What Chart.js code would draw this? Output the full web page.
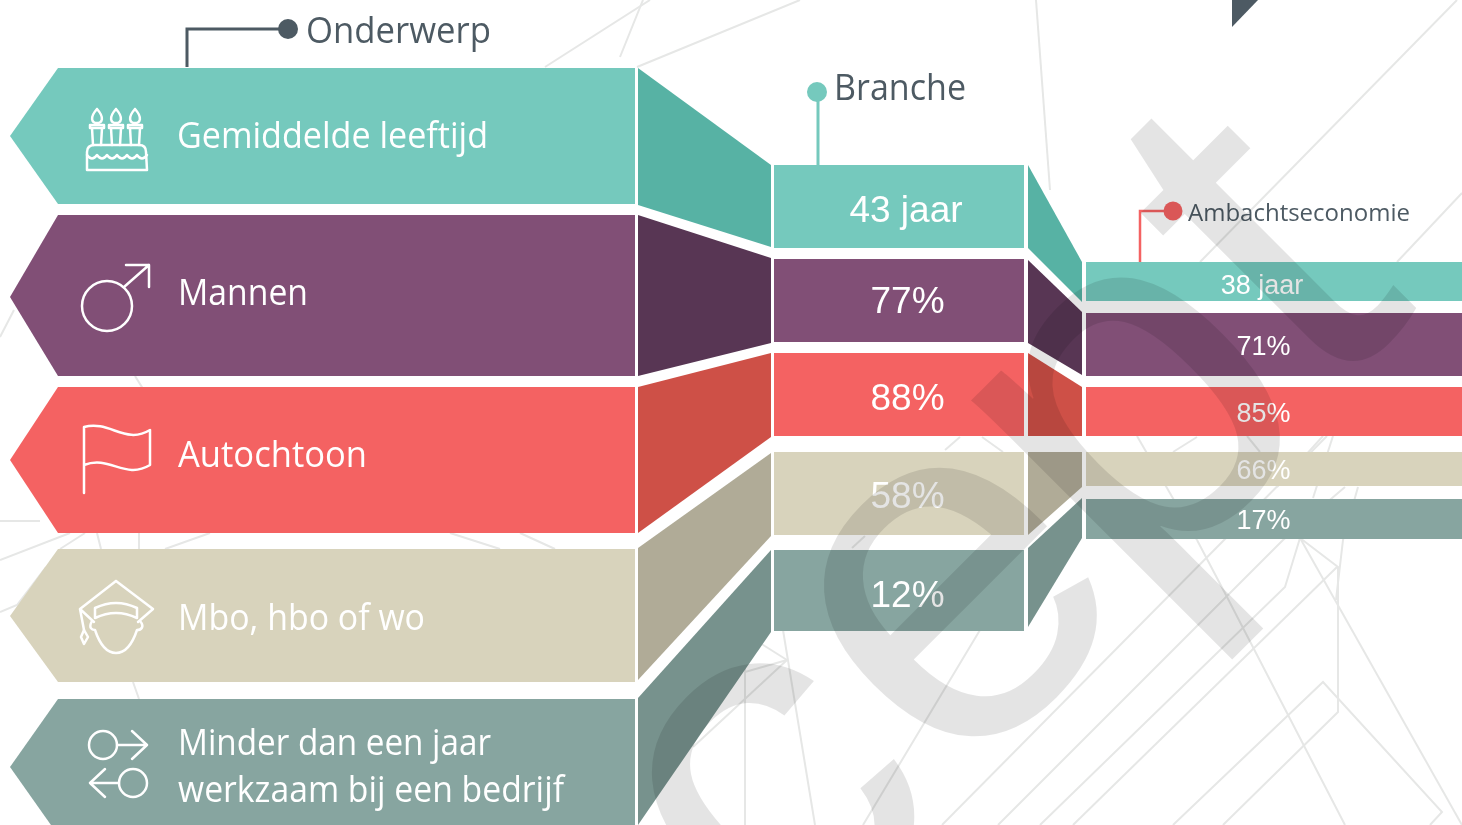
<!DOCTYPE html>
<html>
<head>
<meta charset="utf-8">
<title>Onderwerp, Branche, Ambachtseconomie</title>
<script src="https://cdn.jsdelivr.net/npm/chart.js@4"></script>
<style>
    html, body { margin: 0; padding: 0; background: #fff; overflow: hidden; }
    canvas { display: block; }
</style>
</head>
<body>
<canvas id="flowChart" width="1462" height="825"></canvas>
<script>
// Values
const subjects = ['Gemiddelde leeftijd', 'Mannen', 'Autochtoon', 'Mbo, hbo of wo', 'Minder dan een jaar|werkzaam bij een bedrijf'];
const brancheValues = [43, 77, 88, 58, 12];
const ambachtValues = [38, 71, 85, 66, 17];
const valueUnits = [' jaar', '%', '%', '%', '%'];
const columnNames = ['Onderwerp', 'Branche', 'Ambachtseconomie'];

// Band outlines, one y per entry of stopX
const stopX = [10, 58, 635, 638, 771, 774, 1024, 1028, 1082, 1086, 1462];
const tealTop = [136, 68, 68, 68, 165, 165, 165, 165, 262, 262, 262];
const tealBottom = [136, 204, 204, 205, 247, 248, 248, 248, 302, 301, 301];
const purpleTop = [297, 215, 215, 215, 258, 259, 259, 260, 312, 313, 313];
const purpleBottom = [297, 376, 376, 376, 343, 342, 342, 343, 375, 376, 376];
const redTop = [460, 387, 387, 387, 353, 353, 353, 353, 387, 387, 387];
const redBottom = [460, 533, 533, 533, 437, 436, 436, 436, 436, 436, 436];
const beigeTop = [616, 549, 549, 548, 453, 452, 452, 452, 452, 452, 452];
const beigeBottom = [616, 682, 682, 680, 536, 535, 535, 535, 487, 486, 486];
const slateTop = [767, 699, 699, 698, 550, 550, 550, 548, 498, 499, 499];
const slateBottom = [767, 835, 835, 825, 632, 631, 631, 627, 538, 539, 539];

const bandTops = [tealTop, purpleTop, redTop, beigeTop, slateTop];
const bandBottoms = [tealBottom, purpleBottom, redBottom, beigeBottom, slateBottom];
const bandColors = ['#75c9bd', '#814f76', '#f46262', '#d8d3bc', '#87a5a0'];
const joinColors = ['#57b2a4', '#583654', '#ce5047', '#b0ab97', '#77928d'];

const inkColor = '#4d5a63';
const lineGrey = '#e6e7e6';

// Thin lines of the page background
const backdropLines = [
    [[1457, 0], [1200, 262]], [[1462, 193], [1397, 262]], [[1036, 0], [1050, 190]],
    [[637, 67], [800, 0]], [[545, 67], [650, 0]], [[620, 57], [643, 0]],
    [[0, 337], [14, 310]], [[135, 376], [145, 392]],
    [[0, 521], [40, 521]], [[0, 560], [70, 533]], [[60, 549], [85, 533]],
    [[97, 533], [101, 549]], [[139, 533], [139, 549]], [[165, 549], [210, 533]],
    [[450, 533], [500, 549]], [[520, 533], [555, 549]],
    [[0, 612], [17, 605], [46, 567]], [[133, 682], [139, 699]],
    [[745, 663], [745, 825]], [[783, 630], [815, 825]], [[863, 825], [980, 630]],
    [[693, 747], [787, 660]], [[760, 643], [787, 660]], [[745, 672], [787, 660]],
    [[945, 450], [960, 437]], [[982, 437], [1003, 452]], [[852, 548], [865, 536]],
    [[1137, 436], [1197, 540]], [[1333, 436], [1313, 498]], [[1358, 487], [1343, 540], [1336, 600]],
    [[1173, 452], [1197, 437]], [[1247, 436], [1260, 452]], [[1323, 436], [1277, 487]],
    [[942, 825], [1327, 436]],
    [[998, 825], [1283, 540], [1345, 487]],
    [[1040, 825], [1285, 587], [1300, 538]],
    [[1073, 825], [1337, 567]],
    [[1173, 825], [1323, 682], [1442, 812], [1430, 825]],
    [[1223, 825], [1338, 712], [1338, 567], [1300, 538]],
    [[1345, 825], [1227, 597], [1197, 540]],
    [[1462, 825], [1300, 538]]
];

// Big diagonal stamp over the chart: letter, x and y of its baseline start
const stampLetters = [
    ['c', 782, 982],
    ['e', 953, 794],
    ['p', 1135, 610],
    ['t', 1322, 405]
];

function buildBandDatasets() {
    const datasets = [];
    for (let i = 0; i < bandTops.length; i++) {
        datasets.push({
            label: subjects[i],
            data: stopX.map((x, k) => ({x: x, y: bandTops[i][k]})),
            fill: '+1',
            borderWidth: 0,
            pointRadius: 0,
            segment: {
                backgroundColor: ctx => segmentColor(i, ctx.p0DataIndex)
            }
        });
        datasets.push({
            label: subjects[i] + ' onderkant',
            data: stopX.map((x, k) => ({x: x, y: bandBottoms[i][k]})),
            fill: false,
            borderWidth: 0,
            pointRadius: 0
        });
    }
    return datasets;
}

function segmentColor(band, index) {
    if (index === 0 || index === 1 || index === 5 || index === 9) {
        return bandColors[band];
    }
    if (index === 3 || index === 7) {
        return joinColors[band];
    }
    return 'rgba(0,0,0,0)';
}

const backdropPlugin = {
    id: 'backdrop',
    beforeDatasetsDraw(chart) {
        const c = chart.ctx;
        const sx = chart.scales.x, sy = chart.scales.y;
        c.save();
        c.strokeStyle = lineGrey;
        c.lineWidth = 2;
        backdropLines.forEach(line => {
            c.beginPath();
            line.forEach((p, k) => {
                const px = sx.getPixelForValue(p[0]), py = sy.getPixelForValue(p[1]);
                if (k === 0) c.moveTo(px, py); else c.lineTo(px, py);
            });
            c.stroke();
        });
        // corner of the dark shape at the top of the page
        c.fillStyle = inkColor;
        c.beginPath();
        c.moveTo(1232, 0); c.lineTo(1258, 0); c.lineTo(1232, 27);
        c.closePath();
        c.fill();
        c.restore();
    }
};

// Column captions with their dot and leader line
function drawCaptions(c) {
    c.lineJoin = 'miter';
    c.strokeStyle = inkColor;
    c.lineWidth = 3;
    c.beginPath();
    c.moveTo(280, 29); c.lineTo(187, 29); c.lineTo(187, 67);
    c.stroke();
    c.fillStyle = inkColor;
    c.beginPath(); c.arc(288, 29, 10, 0, Math.PI * 2); c.fill();

    c.strokeStyle = bandColors[0];
    c.beginPath();
    c.moveTo(818, 92); c.lineTo(818, 165);
    c.stroke();
    c.fillStyle = bandColors[0];
    c.beginPath(); c.arc(817, 92, 10, 0, Math.PI * 2); c.fill();

    c.strokeStyle = bandColors[2];
    c.lineWidth = 2.5;
    c.beginPath();
    c.moveTo(1170, 211); c.lineTo(1140, 211); c.lineTo(1140, 262);
    c.stroke();
    c.fillStyle = bandColors[2];
    c.beginPath(); c.arc(1173, 211, 9.5, 0, Math.PI * 2); c.fill();

    c.fillStyle = inkColor;
    c.textAlign = 'left';
    c.textBaseline = 'alphabetic';
    c.font = '36px "Open Sans"';
    c.fillText(columnNames[0], 306, 43, 185);
    c.fillText(columnNames[1], 834, 100, 132);
    c.font = '24px "Open Sans"';
    c.fillText(columnNames[2], 1188, 221, 223);
}

function drawSubjects(c) {
    c.fillStyle = '#fff';
    c.textAlign = 'left';
    c.textBaseline = 'alphabetic';
    c.font = '36px "Open Sans"';
    c.fillText(subjects[0], 177, 148, 311);
    c.fillText(subjects[1], 178, 305, 130);
    c.fillText(subjects[2], 178, 467, 189);
    c.fillText(subjects[3], 178, 630, 247);
    const lines = subjects[4].split('|');
    c.fillText(lines[0], 178, 755, 313);
    c.fillText(lines[1], 178, 802, 386);
}

function drawValues(c) {
    const brancheY = [222, 313, 410, 508, 607];
    const ambachtY = [294, 355, 422, 479, 529];
    c.fillStyle = '#fff';
    c.textAlign = 'center';
    c.textBaseline = 'alphabetic';
    for (let i = 0; i < brancheValues.length; i++) {
        c.font = '37px "Liberation Sans"';
        c.fillText(brancheValues[i] + valueUnits[i], i === 0 ? 906 : 907.5, brancheY[i]);
        c.font = '27px "Liberation Sans"';
        c.fillText(ambachtValues[i] + valueUnits[i], i === 0 ? 1262 : 1263.5, ambachtY[i]);
    }
}

function drawIcons(c) {
    c.strokeStyle = '#fff';
    c.fillStyle = '#fff';
    c.lineWidth = 2.5;
    c.lineJoin = 'round';
    c.lineCap = 'round';

    // cake
    [97, 116, 135].forEach(x => {
        c.beginPath();
        c.moveTo(x, 109);
        c.bezierCurveTo(x + 8, 118, x + 5, 123, x, 123);
        c.bezierCurveTo(x - 5, 123, x - 8, 118, x, 109);
        c.stroke();
        c.strokeRect(x - 7, 125, 14, 3);
        c.beginPath();
        c.moveTo(x - 5, 128); c.lineTo(x - 4, 145);
        c.moveTo(x + 5, 128); c.lineTo(x + 4, 145);
        c.stroke();
    });
    c.beginPath();
    c.moveTo(87, 170); c.lineTo(87, 152);
    c.quadraticCurveTo(87, 145, 95, 145); c.lineTo(139, 145);
    c.quadraticCurveTo(146, 145, 146, 152); c.lineTo(147, 170);
    c.closePath();
    c.stroke();
    c.beginPath();
    c.moveTo(87, 155);
    for (let i = 0; i < 6; i++) {
        c.quadraticCurveTo(92 + i * 10, 162, 97 + i * 10, 155);
    }
    c.stroke();

    // male symbol
    c.beginPath(); c.arc(107, 306, 25, 0, Math.PI * 2); c.stroke();
    c.beginPath();
    c.moveTo(124, 287); c.lineTo(149, 265);
    c.moveTo(126, 265); c.lineTo(149, 265); c.lineTo(149, 287);
    c.stroke();

    // flag
    c.beginPath();
    c.moveTo(84, 493); c.lineTo(84, 427);
    c.bezierCurveTo(110, 420, 125, 445, 150, 430);
    c.lineTo(150, 465);
    c.bezierCurveTo(125, 480, 110, 455, 84, 465);
    c.stroke();

    // graduate
    c.beginPath();
    c.moveTo(116, 581); c.lineTo(153, 609); c.lineTo(138, 622);
    c.moveTo(94, 622); c.lineTo(80, 609); c.lineTo(116, 581);
    c.moveTo(80, 609); c.lineTo(84, 630);
    c.stroke();
    c.beginPath();
    c.moveTo(95, 618); c.lineTo(95, 608);
    c.quadraticCurveTo(116, 598, 137, 608); c.lineTo(137, 618);
    c.quadraticCurveTo(116, 608, 95, 618);
    c.stroke();
    c.beginPath();
    c.moveTo(92, 621);
    c.bezierCurveTo(88, 628, 92, 630, 95, 630);
    c.bezierCurveTo(100, 645, 107, 653, 116, 653);
    c.bezierCurveTo(125, 653, 132, 645, 137, 630);
    c.bezierCurveTo(141, 630, 145, 627, 140, 621);
    c.stroke();
    c.beginPath();
    c.moveTo(84, 630); c.lineTo(88, 637); c.lineTo(84, 644); c.lineTo(81, 637);
    c.closePath();
    c.stroke();

    // arrows
    c.beginPath(); c.arc(103, 745, 14, 0, Math.PI * 2); c.stroke();
    c.beginPath();
    c.moveTo(117, 745); c.lineTo(147, 745);
    c.moveTo(132, 731); c.lineTo(147, 745); c.lineTo(132, 759);
    c.stroke();
    c.beginPath(); c.arc(133, 783, 14, 0, Math.PI * 2); c.stroke();
    c.beginPath();
    c.moveTo(119, 783); c.lineTo(90, 783);
    c.moveTo(105, 769); c.lineTo(90, 783); c.lineTo(105, 797);
    c.stroke();
    c.lineCap = 'butt';
}

const labelPlugin = {
    id: 'flowLabels',
    afterDatasetsDraw(chart) {
        const c = chart.ctx;
        c.save();
        drawCaptions(c);
        drawIcons(c);
        drawSubjects(c);
        drawValues(c);
        c.restore();
    }
};

const watermarkPlugin = {
    id: 'watermark',
    afterDraw(chart) {
        const c = chart.ctx;
        c.save();
        c.fillStyle = 'rgba(0,0,0,0.105)';
        c.textAlign = 'left';
        c.textBaseline = 'alphabetic';
        c.font = '500px "Liberation Sans"';
        stampLetters.forEach(item => {
            c.save();
            c.translate(item[1], item[2]);
            c.rotate(-Math.PI / 4);
            c.fillText(item[0], 0, 0);
            c.restore();
        });
        c.restore();
    }
};

new Chart(document.getElementById('flowChart').getContext('2d'), {
    type: 'line',
    data: {datasets: buildBandDatasets()},
    options: {
        responsive: false,
        animation: false,
        layout: {padding: 0},
        elements: {line: {tension: 0}},
        plugins: {
            legend: {display: false},
            tooltip: {enabled: false},
            filler: {propagate: false}
        },
        scales: {
            x: {type: 'linear', min: 0, max: 1462, display: false},
            y: {type: 'linear', min: 0, max: 825, reverse: true, display: false}
        }
    },
    plugins: [backdropPlugin, labelPlugin, watermarkPlugin]
});
</script>
</body>
</html>
